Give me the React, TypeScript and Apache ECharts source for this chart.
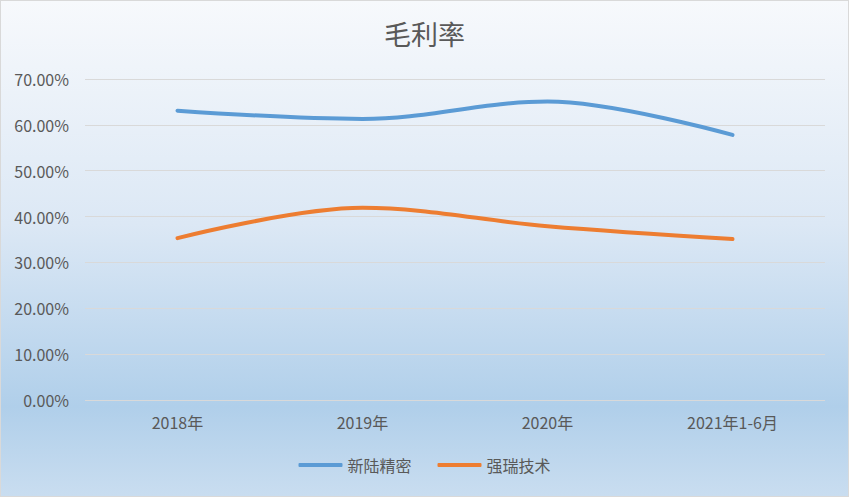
import React, { useEffect, useRef } from "react";
import * as echarts from "echarts";

const categories = ["2018年", "2019年", "2020年", "2021年1-6月"];
const xinluData = [63.1, 61.3, 65.1, 57.8];
const qiangruiData = [35.3, 41.9, 37.9, 35.1];
const seriesNames = ["新陆精密", "强瑞技术"];

export default function App() {
  const ref = useRef<HTMLDivElement>(null);
  useEffect(() => {
    document.body.style.margin = "0";
    const chart = echarts.init(ref.current!, null, { renderer: "svg" });
    const font = "'Noto Sans CJK SC', 'Noto Sans', sans-serif";
    chart.setOption({
      animation: false,
      backgroundColor: {
        type: "linear",
        x: 0, y: 0, x2: 0, y2: 1,
        colorStops: [
          { offset: 0, color: "#f7f9fc" },
          { offset: 0.45, color: "#dce8f5" },
          { offset: 0.82, color: "#b0cfea" },
          { offset: 1, color: "#c9ddf0" },
        ],
      },
      title: {
        text: "毛利率",
        left: "center",
        top: 14,
        textStyle: { fontFamily: font, fontSize: 27, fontWeight: "normal", color: "#595959" },
      },
      legend: {
        bottom: 18,
        left: "center",
        itemWidth: 44,
        itemHeight: 4,
        itemGap: 26,
        icon: "roundRect",
        textStyle: { fontFamily: font, fontSize: 16, color: "#595959" },
        data: seriesNames,
      },
      grid: { left: 84, right: 23, top: 78, bottom: 96 },
      xAxis: {
        type: "category",
        data: categories,
        boundaryGap: true,
        axisLine: { show: false },
        axisTick: { show: false },
        axisLabel: { fontFamily: font, fontSize: 16, color: "#595959", margin: 14 },
      },
      yAxis: {
        type: "value",
        min: 0,
        max: 70,
        interval: 10,
        axisLine: { show: false },
        axisTick: { show: false },
        splitLine: { lineStyle: { color: "#d9d9d9", width: 1 } },
        axisLabel: {
          fontFamily: font,
          fontSize: 16,
          color: "#595959",
          margin: 16,
          formatter: (v: number) => v.toFixed(2) + "%",
        },
      },
      series: [
        {
          name: seriesNames[0],
          type: "line",
          data: xinluData,
          smooth: 0.35,
          symbol: "none",
          lineStyle: { color: "#5b9bd5", width: 4, cap: "round" },
          itemStyle: { color: "#5b9bd5" },
        },
        {
          name: seriesNames[1],
          type: "line",
          data: qiangruiData,
          smooth: 0.35,
          symbol: "none",
          lineStyle: { color: "#ed7d31", width: 4, cap: "round" },
          itemStyle: { color: "#ed7d31" },
        },
      ],
    });
    return () => chart.dispose();
  }, []);
  return (
    <div
      ref={ref}
      style={{ width: 849, height: 497, boxSizing: "border-box", border: "1px solid #d9d9d9" }}
    />
  );
}
